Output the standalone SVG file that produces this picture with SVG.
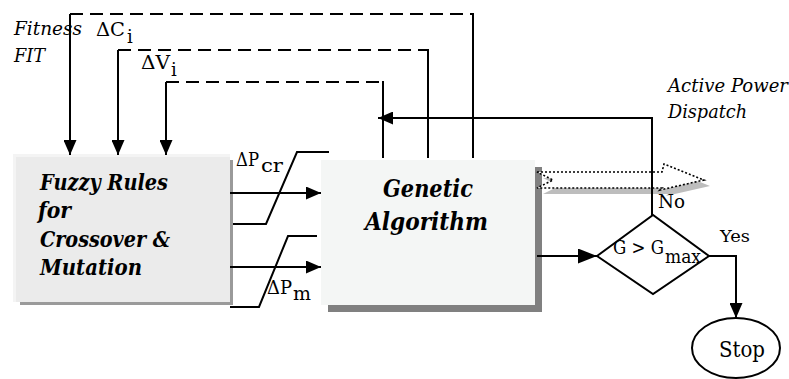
<svg xmlns="http://www.w3.org/2000/svg" width="789" height="379" viewBox="0 0 789 379" font-family="DejaVu Serif, serif">
<defs>
<style>
.ln{stroke:#000;stroke-width:2;fill:none}
.ds{stroke:#000;stroke-width:2;fill:none;stroke-dasharray:13 7}
.bt{font-style:italic;font-weight:bold}
.it{font-style:italic}
</style>
<marker id="ah" markerUnits="userSpaceOnUse" markerWidth="15" markerHeight="13" refX="15" refY="6.5" orient="auto">
<path d="M0,0 L15,6.5 L0,13 Z" fill="#000"/>
</marker>
<marker id="ahb" markerUnits="userSpaceOnUse" markerWidth="19" markerHeight="15" refX="19" refY="7.5" orient="auto">
<path d="M0,0 L19,7.5 L0,15 Z" fill="#000"/>
</marker>
</defs>
<rect width="789" height="379" fill="#fff"/>

<g id="fuzzy">
<rect x="20" y="160" width="213" height="145" fill="#9a9a9a"/>
<rect x="13" y="154" width="217" height="148" fill="#f4f4f4"/>
<rect x="16" y="157" width="214" height="145" fill="#ebebeb"/>
<g class="bt" font-size="22" font-family="DejaVu Serif, serif">
<text x="40" y="190" textLength="128" lengthAdjust="spacingAndGlyphs">Fuzzy Rules</text>
<text x="38" y="218" textLength="33" lengthAdjust="spacingAndGlyphs">for</text>
<text x="40" y="247" textLength="130" lengthAdjust="spacingAndGlyphs">Crossover &amp;</text>
<text x="40" y="275" textLength="102" lengthAdjust="spacingAndGlyphs">Mutation</text>
</g>
</g>

<g id="ga">
<rect x="328" y="167" width="214" height="145" fill="#808080"/>
<rect x="321" y="160" width="214" height="145" fill="#f4f6f5"/>
<g class="bt" font-size="24" font-family="DejaVu Serif, serif">
<text x="383" y="197" textLength="90" lengthAdjust="spacingAndGlyphs">Genetic</text>
<text x="365" y="230" textLength="123" lengthAdjust="spacingAndGlyphs">Algorithm</text>
</g>
</g>

<g id="dispatch-arrow">
<polygon points="543,178 668,178 670,170 710,186 666,196 668,194 543,194 559,186" fill="#bdbdbd"/>
<polygon points="537,172 662,172 664,164 704,180 660,190 662,188 537,188 553,180" fill="#fff" stroke="#000" stroke-width="1.6" stroke-dasharray="2 2"/>
</g>

<g id="decision">
<polygon points="597,256 653,215 709,256 653,294" fill="none" stroke="#000" stroke-width="2"/>
<text font-size="18" x="613" y="254" textLength="51" lengthAdjust="spacingAndGlyphs">G &gt; G</text>
<text font-size="18" x="665" y="263" textLength="36" lengthAdjust="spacingAndGlyphs">max</text>
</g>

<g id="stop">
<ellipse cx="736" cy="348" rx="44" ry="30" fill="none" stroke="#000" stroke-width="2"/>
<text font-size="22" x="719" y="357" textLength="46" lengthAdjust="spacingAndGlyphs">Stop</text>
</g>

<g id="connectors">
<path class="ds" d="M70,14 H473"/>
<path class="ds" d="M118,50 H428"/>
<path class="ds" d="M166,82 H383"/>
<path class="ln" d="M70,14 V155" marker-end="url(#ah)"/>
<path class="ln" d="M118,50 V155" marker-end="url(#ah)"/>
<path class="ln" d="M166,82 V155" marker-end="url(#ah)"/>
<path class="ln" d="M473,13 V158"/>
<path class="ln" d="M428,49 V158"/>
<path class="ln" d="M383,81 V158"/>
<path class="ln" d="M652,118 H378" marker-end="url(#ah)"/>
<path class="ln" d="M652,117 V215"/>
<path class="ln" d="M230,193 H321" marker-end="url(#ah)"/>
<path class="ln" d="M230,267 H321" marker-end="url(#ah)"/>
<path class="ln" d="M233,224 H266 L297,152 H329"/>
<path class="ln" d="M230,307 H259 L288,236 H317"/>
<path class="ln" d="M537,256 H597" marker-end="url(#ahb)"/>
<path class="ln" d="M709,256 H736 V318" marker-end="url(#ah)"/>
</g>

<g id="labels" font-family="DejaVu Serif, serif">
<text class="it" font-size="18" x="14" y="35" textLength="68" lengthAdjust="spacingAndGlyphs">Fitness</text>
<text class="it" font-size="18" x="14" y="62" textLength="31" lengthAdjust="spacingAndGlyphs">FIT</text>
<text font-size="19" x="96" y="36" textLength="29" lengthAdjust="spacingAndGlyphs">ΔC</text>
<text font-size="18" x="127" y="43">i</text>
<text font-size="19" x="141" y="69" textLength="29" lengthAdjust="spacingAndGlyphs">ΔV</text>
<text font-size="18" x="171" y="76">i</text>
<text font-size="19" x="236" y="166" textLength="23" lengthAdjust="spacingAndGlyphs">ΔP</text>
<text font-size="19" x="261" y="172" textLength="22" lengthAdjust="spacingAndGlyphs">cr</text>
<text font-size="19" x="267" y="294" textLength="25" lengthAdjust="spacingAndGlyphs">ΔP</text>
<text font-size="19" x="293" y="300" textLength="18" lengthAdjust="spacingAndGlyphs">m</text>
<text class="it" font-size="18" x="668" y="92" textLength="120" lengthAdjust="spacingAndGlyphs">Active Power</text>
<text class="it" font-size="18" x="668" y="118" textLength="79" lengthAdjust="spacingAndGlyphs">Dispatch</text>
<text font-size="18" x="658" y="208" textLength="27" lengthAdjust="spacingAndGlyphs">No</text>
<text font-size="17" x="720" y="242" textLength="30" lengthAdjust="spacingAndGlyphs">Yes</text>
</g>
</svg>
